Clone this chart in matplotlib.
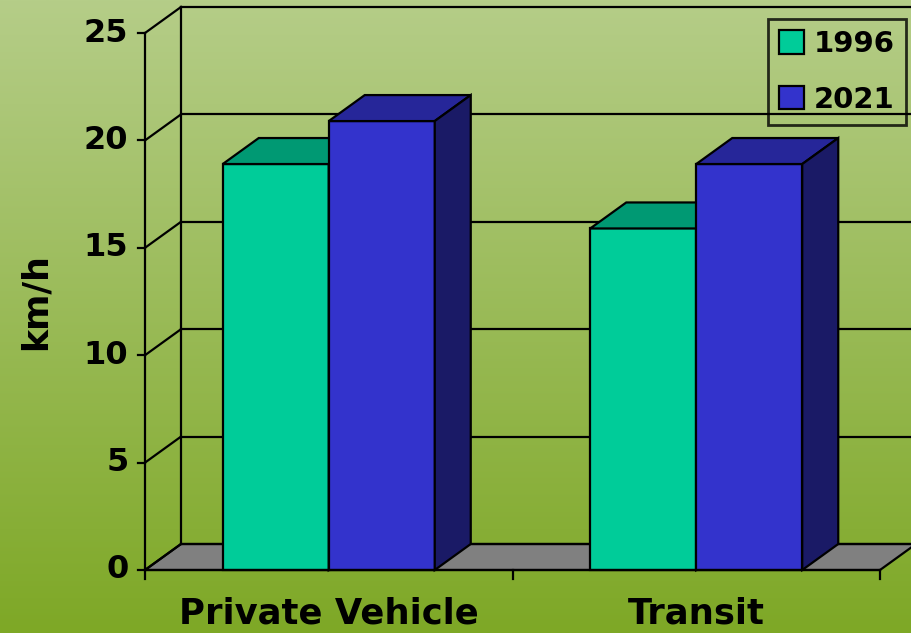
import numpy as np
import matplotlib.pyplot as plt
from matplotlib.patches import Polygon
from matplotlib.colors import LinearSegmentedColormap

# chart data
categories = ["Private Vehicle", "Transit"]
series_names = ["1996", "2021"]
speed_1996 = [18.9, 15.9]
speed_2021 = [20.9, 18.9]
yticks = [0, 5, 10, 15, 20, 25]

# colours: front, top, side
colors = {
    "1996": ("#00cc99", "#009973", "#00664d"),
    "2021": ("#3333cc", "#262699", "#1a1a66"),
}

W, H = 911, 633
fig = plt.figure(figsize=(W / 100, H / 100), dpi=100)

# gradient background
bg = fig.add_axes([0, 0, 1, 1], zorder=0)
grad = np.linspace(0, 1, 256).reshape(-1, 1)
cmap = LinearSegmentedColormap.from_list("bg", ["#b5cd88", "#7ea826"])
bg.imshow(grad, aspect="auto", cmap=cmap, extent=[0, 1, 0, 1])
bg.set_axis_off()

# front plane of the plot in pixels
x0, x1 = 145, 880
y0, y1 = 570, 33
ax = fig.add_axes([x0 / W, (H - y0) / H, (x1 - x0) / W, (y0 - y1) / H], zorder=1)
ax.set_xlim(0, 2)
ax.set_ylim(0, 25)
ax.set_axis_off()

# depth offset (pixels -> data units)
dx = 36 / (x1 - x0) * 2
dy = 26 / (y0 - y1) * 25

lw = 1.6
kw = dict(clip_on=False)

# floor
ax.add_patch(Polygon([(0, 0), (2, 0), (2 + dx, dy), (dx, dy)], closed=True,
                     facecolor="#808080", edgecolor="black", lw=lw, zorder=2, **kw))

# back wall gridlines and left wall diagonals
for v in yticks:
    ax.plot([dx, 2 + dx], [v + dy, v + dy], color="black", lw=lw, zorder=2, **kw)
    ax.plot([0, dx], [v, v + dy], color="black", lw=lw, zorder=2, **kw)
ax.plot([dx, dx], [dy, 25 + dy], color="black", lw=lw, zorder=2, **kw)

# front axes
ax.plot([0, 0], [0, 25], color="black", lw=lw, zorder=2, **kw)
ax.plot([0, 2], [0, 0], color="black", lw=lw, zorder=6, **kw)
for v in yticks:
    ax.plot([-0.018, 0], [v, v], color="black", lw=lw, zorder=2, **kw)
    ax.text(-0.045, v, str(v), ha="right", va="center", fontsize=23,
            fontweight="bold", **kw)
for c in [0, 1, 2]:
    ax.plot([c, c], [0, -0.4], color="black", lw=lw, zorder=6, **kw)


def draw_bar(xl, w, h, cols, z):
    front, top, side = cols
    ax.add_patch(Polygon([(xl, 0), (xl + w, 0), (xl + w, h), (xl, h)], closed=True,
                         facecolor=front, edgecolor="black", lw=lw, zorder=z, **kw))
    ax.add_patch(Polygon([(xl, h), (xl + w, h), (xl + w + dx, h + dy), (xl + dx, h + dy)],
                         closed=True, facecolor=top, edgecolor="black", lw=lw, zorder=z, **kw))
    ax.add_patch(Polygon([(xl + w, 0), (xl + w + dx, dy), (xl + w + dx, h + dy), (xl + w, h)],
                         closed=True, facecolor=side, edgecolor="black", lw=lw, zorder=z, **kw))


bw = 106 / (x1 - x0) * 2
for i, cat in enumerate(categories):
    c = i + 0.5
    draw_bar(c - bw, bw, speed_1996[i], colors["1996"], 3)
    draw_bar(c, bw, speed_2021[i], colors["2021"], 4)
    ax.text(c, -1.25, cat, ha="center", va="top", fontsize=25.5, fontweight="bold", **kw)

ax.text(-0.297, 12.5, "km/h", rotation=90, ha="center", va="center",
        fontsize=25, fontweight="bold", **kw)

# legend
handles = [plt.Rectangle((0, 0), 1, 1, facecolor=colors[s][0], edgecolor="black", lw=lw)
           for s in series_names]
leg = fig.legend(handles, series_names, loc="upper right",
                 bbox_to_anchor=(906 / W, 1 - 19 / H), frameon=True, fancybox=False,
                 prop=dict(size=21, weight="bold"), handlelength=0.85, handleheight=0.85,
                 handletextpad=0.35, borderpad=0.38, labelspacing=0.95, borderaxespad=0)
leg.get_frame().set_edgecolor("black")
leg.get_frame().set_facecolor("none")
leg.get_frame().set_linewidth(2)
leg.set_zorder(10)

fig.savefig("out.png", dpi=100)
